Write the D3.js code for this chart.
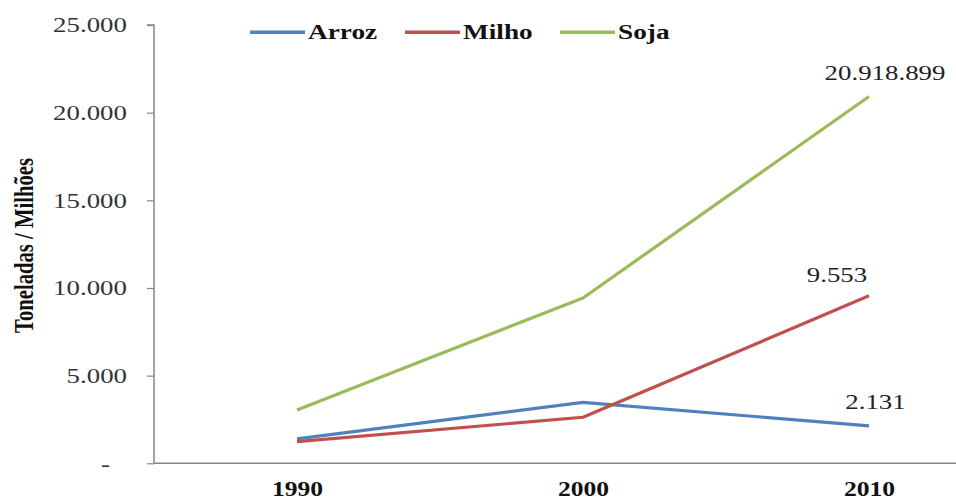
<!DOCTYPE html>
<html><head><meta charset="utf-8">
<script src="https://cdn.jsdelivr.net/npm/d3@7"></script>
<style>body{margin:0;background:#fff}svg{display:block}</style>
</head><body>
<svg id="c" width="956" height="500"></svg>
<script>
const years = ["1990","2000","2010"];
const arroz = [1390, 3480, 2131];
const milho = [1235, 2625, 9553];
const soja = [3045, 9430, 20918.899];
const seriesNames = ["Arroz","Milho","Soja"];
const colors = ["#4f81bd","#c0504d","#9bbb59"];
const yTicks = [0,5000,10000,15000,20000,25000];
const endLabels = ["2.131","9.553","20.918.899"];

const svg = d3.select("#c");
const SERIF = '"Liberation Serif", serif';
const x = d3.scalePoint().domain(years).range([297, 869]);
const y = d3.scaleLinear().domain([0,25000]).range([463.3, 25]);
const loc = d3.formatLocale({decimal:",", thousands:".", grouping:[3], currency:["",""]});
const fmt = loc.format(",.0f");

// widen text horizontally by factor f around anchor point ax (transform based)
function stretch(sel, f, anchor, ax, yy) {
  sel.each(function(d){
    const a = typeof ax === "function" ? ax(d) : ax;
    const b = yy === undefined ? 0 : yy;
    d3.select(this).attr("text-anchor", anchor).attr("x", 0).attr("y", 0)
      .attr("transform", `translate(${a},${b}) scale(${f},1)`);
  });
}

// y axis
const ya = svg.append("g").attr("transform","translate(154,0)")
  .call(d3.axisLeft(y).tickValues(yTicks).tickSize(7).tickPadding(20)
    .tickFormat(d => d === 0 ? "-" : fmt(d)));
ya.attr("font-family", null);
ya.select(".domain").attr("stroke","#868686").attr("stroke-width",1.5).attr("d","M-7,25H0V463.3");
ya.selectAll(".tick line").attr("stroke","#868686").attr("stroke-width",1.2);
ya.selectAll(".tick text").style("font-family",SERIF).style("font-size","21px").attr("fill","#333");
stretch(ya.selectAll(".tick text"), 1.28, "end", d => d === 0 ? -44 : -27);

// x axis
const xa = svg.append("g").attr("transform","translate(0,463.3)")
  .call(d3.axisBottom(x).tickSize(0));
xa.attr("font-family", null);
xa.select(".domain").attr("stroke","#868686").attr("stroke-width",1.5).attr("d","M154,0H956");
xa.selectAll(".tick text").style("font-family",SERIF).style("font-size","21px").style("font-weight","bold")
  .attr("fill","#111").attr("dy",null);
stretch(xa.selectAll(".tick text"), 1.22, "middle", 0, 33);

// y title
svg.append("text").attr("transform","translate(33,245.5) scale(1.25,1) rotate(-90)")
  .attr("text-anchor","middle").style("font-family",SERIF).style("font-size","21px")
  .style("font-weight","bold").attr("fill","#111").attr("textLength",175).attr("lengthAdjust","spacingAndGlyphs")
  .text("Toneladas / Milhões");

const data = [arroz, milho, soja];
const line = d3.line().x((d,i)=>x(years[i])).y(d=>y(d));
data.forEach((s,k)=>{
  svg.append("path").attr("d",line(s)).attr("fill","none").attr("stroke",colors[k])
    .attr("stroke-width",3.2).attr("stroke-linejoin","round");
});

// end labels
const labelPos = [[6.5,-16.6],[-32,-14],[16,-16.6]];
data.forEach((s,k)=>{
  const t = svg.append("text")
    .style("font-family",SERIF).style("font-size","21px")
    .attr("fill","#222").text(endLabels[k]);
  stretch(t, 1.28, "middle", x(years[2]) + labelPos[k][0], y(s[2]) + labelPos[k][1]);
});

// legend
const legX = [250, 405, 560];
seriesNames.forEach((n,k)=>{
  svg.append("line").attr("x1",legX[k]).attr("x2",legX[k]+55).attr("y1",32.3).attr("y2",32.3)
    .attr("stroke",colors[k]).attr("stroke-width",3.5);
  const t = svg.append("text").style("font-family",SERIF)
    .style("font-size","21px").style("font-weight","bold").attr("fill","#111").text(n);
  stretch(t, 1.3, "start", legX[k]+58, 39.3);
});
</script>
</body></html>
